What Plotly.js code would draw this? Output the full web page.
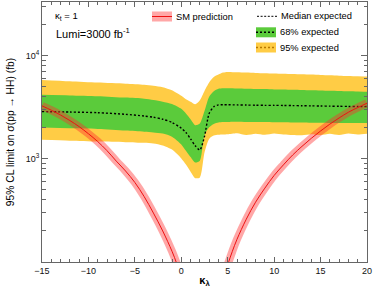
<!DOCTYPE html>
<html>
<head>
<meta charset="utf-8">
<script src="https://cdn.plot.ly/plotly-3.0.1.min.js"></script>
<style>html,body{margin:0;padding:0;background:#fff;}#chart{width:374px;height:291px;}</style>
</head>
<body>
<div id="chart"></div>
<script>
// ---- data ----
const kl = [-15, -12, -9, -6, -4, -3, -2, -1, 0, 0.5, 1, 1.5, 2, 2.5, 3, 3.5, 4, 4.5, 5, 6, 7, 8, 9, 10, 11, 12, 13, 14, 15, 16, 17, 18, 19, 20];
const medianExp = [2870, 2840, 2800, 2700, 2600, 2530, 2420, 2250, 1980, 1800, 1560, 1340, 1220, 1650, 2750, 3200, 3330, 3340, 3340, 3330, 3320, 3310, 3300, 3300, 3290, 3280, 3270, 3260, 3250, 3240, 3230, 3220, 3210, 3210];
const band68Hi = [4170, 4120, 4050, 3920, 3830, 3720, 3580, 3400, 3050, 2750, 2420, 2120, 2200, 2900, 4000, 4520, 4780, 4830, 4820, 4800, 4780, 4760, 4740, 4710, 4690, 4660, 4640, 4610, 4590, 4560, 4540, 4510, 4490, 4470];
const band68Lo = [2010, 1980, 1950, 1880, 1830, 1800, 1760, 1640, 1380, 1200, 1040, 920, 960, 1700, 2020, 2180, 2250, 2270, 2280, 2290, 2280, 2270, 2270, 2260, 2260, 2250, 2250, 2240, 2240, 2230, 2230, 2220, 2220, 2220];
const band95Hi = [5820, 5650, 5480, 5350, 5230, 5120, 4950, 4620, 4080, 3780, 3570, 3380, 3700, 4550, 5500, 6200, 6550, 6850, 6950, 6900, 6850, 6800, 6760, 6720, 6680, 6640, 6600, 6550, 6500, 6450, 6400, 6360, 6310, 6270];
const band95Lo = [1530, 1500, 1470, 1450, 1430, 1410, 1350, 1230, 1010, 880, 750, 650, 660, 1150, 1560, 1680, 1710, 1720, 1730, 1770, 1700, 1750, 1710, 1760, 1720, 1700, 1690, 1730, 1700, 1750, 1700, 1760, 1720, 1750];

const smLeftK  = [-15, -14, -13, -12, -11, -10, -9, -8, -7, -6, -5, -4, -3, -2, -1, -0.5, 0];
const smLeftV  = [3260, 2960, 2660, 2350, 2050, 1750, 1470, 1200, 950, 762, 590, 431, 298, 200, 127, 97, 71];
const smRightK = [4.5, 5, 5.5, 6, 7, 8, 9, 10, 11, 12, 13, 14, 15, 16, 17, 18, 19, 20];
const smRightV = [67, 94, 127, 166, 260, 380, 520, 690, 874, 1090, 1321, 1580, 1862, 2170, 2490, 2830, 3140, 3460];

const xTickVals = [-15, -10, -5, 0, 5, 10, 15, 20];
const yTickVals = [1000, 10000];
const yTickText = ['10<sup>3</sup>', '10<sup>4</sup>'];
const yMinorVals = [200, 300, 400, 500, 600, 700, 800, 900, 2000, 3000, 4000, 5000, 6000, 7000, 8000, 9000, 20000, 30000];

const legendLabels = ['SM prediction', 'Median expected', '68% expected', '95% expected'];

// ---- styling ----
const YELLOW = '#ffcc45';
const GREEN = '#5bcb3b';
const PINK = 'rgba(255,45,45,0.42)';
const RED = '#ee1111';
const FONT = 'Liberation Sans, Arial, sans-serif';
const W = 374, H = 291, ML = 42, MR = 7, MT = 2, MB = 29;
const PW = W - ML - MR, PH = H - MT - MB;
const px = x => (x - ML) / PW;
const py = y => (H - MB - y) / PH;

const sp = {shape: 'spline', smoothing: 0.7};
const traces = [
  {x: kl, y: band95Lo, mode: 'lines', line: Object.assign({width: 0, color: YELLOW}, sp), hoverinfo: 'skip', showlegend: false},
  {x: kl, y: band95Hi, mode: 'lines', fill: 'tonexty', fillcolor: YELLOW, line: Object.assign({width: 0, color: YELLOW}, sp), hoverinfo: 'skip', showlegend: false},
  {x: kl, y: band68Lo, mode: 'lines', line: Object.assign({width: 0, color: GREEN}, sp), hoverinfo: 'skip', showlegend: false},
  {x: kl, y: band68Hi, mode: 'lines', fill: 'tonexty', fillcolor: GREEN, line: Object.assign({width: 0, color: GREEN}, sp), hoverinfo: 'skip', showlegend: false},
  {x: kl, y: medianExp, mode: 'lines', line: Object.assign({width: 1.4, color: '#000', dash: '2px,2px'}, sp), showlegend: false},
  {x: smLeftK, y: smLeftV, mode: 'lines', line: {width: 8, color: PINK, shape: 'spline'}, showlegend: false},
  {x: smRightK, y: smRightV, mode: 'lines', line: {width: 8, color: PINK, shape: 'spline'}, showlegend: false},
  {x: smLeftK, y: smLeftV, mode: 'lines', line: {width: 1, color: RED, shape: 'spline'}, showlegend: false},
  {x: smRightK, y: smRightV, mode: 'lines', line: {width: 1, color: RED, shape: 'spline'}, showlegend: false}
];

const axisCommon = {
  showline: true, linecolor: '#666', linewidth: 1, mirror: 'allticks',
  ticks: 'inside', tickcolor: '#666', showgrid: false, zeroline: false,
  tickfont: {family: FONT, size: 9, color: '#111'}
};

const shapes = [
  {type: 'rect', xref: 'paper', yref: 'paper', x0: px(152), x1: px(172), y0: py(21.5), y1: py(11.5), fillcolor: PINK, line: {width: 0}},
  {type: 'line', xref: 'paper', yref: 'paper', x0: px(152), x1: px(172), y0: py(16.5), y1: py(16.5), line: {color: RED, width: 1}},
  {type: 'line', xref: 'paper', yref: 'paper', x0: px(257), x1: px(277), y0: py(16.3), y1: py(16.3), line: {color: '#000', width: 1, dash: '2px,1.6px'}},
  {type: 'rect', xref: 'paper', yref: 'paper', x0: px(256), x1: px(276), y0: py(37.3), y1: py(27.3), fillcolor: GREEN, line: {width: 0}},
  {type: 'line', xref: 'paper', yref: 'paper', x0: px(256), x1: px(276), y0: py(32.3), y1: py(32.3), line: {color: '#000', width: 1.4, dash: '2px,2px'}},
  {type: 'rect', xref: 'paper', yref: 'paper', x0: px(256), x1: px(276), y0: py(52.5), y1: py(42.5), fillcolor: YELLOW, line: {width: 0}},
  {type: 'line', xref: 'paper', yref: 'paper', x0: px(256), x1: px(276), y0: py(47.5), y1: py(47.5), line: {color: '#b87800', width: 1.4, dash: '2px,2px'}}
];

const ann = (x, y, text, size, extra) => Object.assign({
  xref: 'paper', yref: 'paper', x: px(x), y: py(y), text: text, showarrow: false,
  xanchor: 'left', yanchor: 'middle', font: {family: FONT, size: size, color: '#000'}
}, extra || {});

const annotations = [
  ann(53, 15.5, 'κ<sub>t</sub> = 1', 9.5),
  ann(54, 33, 'Lumi=3000 fb<sup>-1</sup>', 11),
  ann(174, 16.5, legendLabels[0], 9.3),
  ann(279, 16.3, legendLabels[1], 9.3),
  ann(278, 32.3, legendLabels[2], 9.3),
  ann(278, 47.5, legendLabels[3], 9.3)
];

const layout = {
  width: W, height: H,
  margin: {l: ML, r: MR, t: MT, b: MB, pad: 0},
  paper_bgcolor: '#fff', plot_bgcolor: '#fff',
  showlegend: false,
  xaxis: Object.assign({}, axisCommon, {
    range: [-15, 20], tickmode: 'array', tickvals: xTickVals, ticklen: 5,
    minor: {dtick: 1, tick0: 0, ticklen: 3, ticks: 'inside', tickcolor: '#666'},
    title: {text: '<b>κ<sub>λ</sub></b>', font: {family: FONT, size: 11, color: '#000'}, standoff: 1}
  }),
  yaxis: Object.assign({}, axisCommon, {
    type: 'log', range: [2, 4.52], tickmode: 'array', tickvals: yTickVals, ticktext: yTickText, ticklen: 6,
    minor: {tickmode: 'array', tickvals: yMinorVals, ticklen: 3.5, ticks: 'inside', tickcolor: '#666'},
    title: {text: '95% CL limit on σ(pp → HH) (fb)', font: {family: FONT, size: 10.3, color: '#000'}, standoff: 9}
  }),
  shapes: shapes,
  annotations: annotations
};

Plotly.newPlot('chart', traces, layout, {staticPlot: true, displayModeBar: false});
</script>
</body>
</html>
